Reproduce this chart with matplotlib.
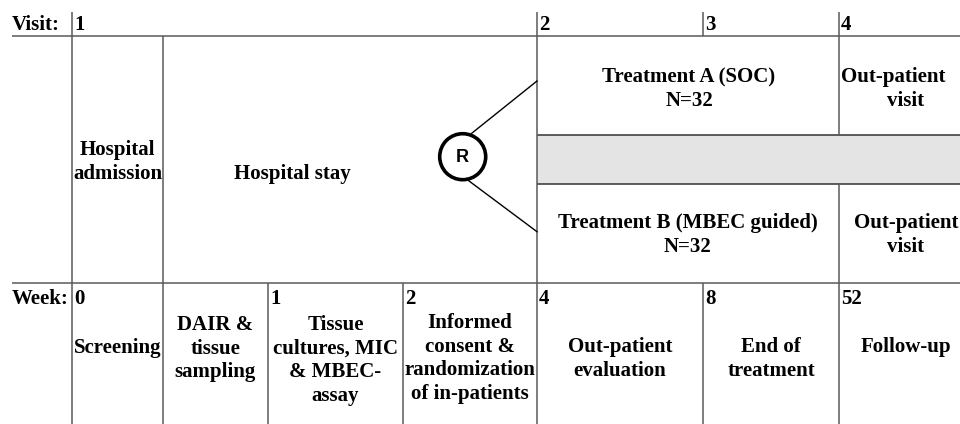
import matplotlib
matplotlib.use("Agg")
import matplotlib.pyplot as plt
from matplotlib.patches import Rectangle, Circle

# ---- content ----
visit_title = "Visit:"
visit_labels = ["1", "2", "3", "4"]
week_title = "Week:"
week_labels = ["0", "1", "2", "4", "8", "52"]

upper_labels = ["Hospital\nadmission", "Hospital stay"]
arm_a = "Treatment A (SOC)\nN=32"
arm_b = "Treatment B (MBEC guided)\nN=32"
visit_out = "Out-patient\nvisit"
rand_label = "R"

week_cells = ["Screening", "DAIR &\ntissue\nsampling",
              "Tissue\ncultures, MIC\n& MBEC-\nassay",
              "Informed\nconsent &\nrandomization\nof in-patients",
              "Out-patient\nevaluation", "End of\ntreatment", "Follow-up"]

# ---- layout (pixel coordinates) ----
W, H = 960, 424
X0, XA, XB, XC, XD, XE, XF, XR = 12, 72, 163, 268, 403, 537, 703, 839
Y_TOP, Y_BAND0, Y_BAND1, Y_WEEK = 36, 135, 184, 283
LINE_H = 23.5

fig = plt.figure(figsize=(W / 100, H / 100), dpi=100)
ax = fig.add_axes([0, 0, 1, 1])
ax.set_xlim(0, W)
ax.set_ylim(H, 0)
ax.axis("off")

GRID = "#5a5a5a"
LW = 1.1
serif = dict(family="Liberation Serif", weight="bold", size=15, color="black")


def hline(y, x0, x1, c=GRID, lw=LW):
    ax.plot([x0, x1], [y, y], color=c, lw=lw, solid_capstyle="butt")


def vline(x, y0, y1, c=GRID, lw=LW):
    ax.plot([x, x], [y0, y1], color=c, lw=lw, solid_capstyle="butt")


def block(label, xc, y_first, ha="center"):
    for i, line in enumerate(label.split("\n")):
        ax.text(xc, y_first + i * LINE_H, line, ha=ha, va="baseline", **serif)


# gray band
ax.add_patch(Rectangle((XE, Y_BAND0), W - XE, Y_BAND1 - Y_BAND0,
                       facecolor="#e4e4e4", edgecolor="none"))

# horizontal lines
hline(Y_TOP, X0, W)
hline(Y_WEEK, X0, W)
hline(Y_BAND0, XE, W, c="#333333")
hline(Y_BAND1, XE, W, c="#333333")

# vertical lines
vline(XA, 12, H)
vline(XB, Y_TOP, H)
vline(XE, 12, H)
vline(XF, 12, Y_TOP)
vline(XF, Y_WEEK, H)
vline(XR, 12, Y_BAND0)
vline(XR, Y_BAND1, H)
vline(XC, Y_WEEK, H)
vline(XD, Y_WEEK, H)

# visit row
ax.text(X0, 29.5, visit_title, ha="left", va="baseline", **serif)
for lab, x in zip(visit_labels, [XA, XE, XF, XR]):
    ax.text(x + 2, 29.5, lab, ha="left", va="baseline", **serif)

# week row
ax.text(X0, 303.5, week_title, ha="left", va="baseline", **serif)
for lab, x in zip(week_labels, [XA, XC, XD, XE, XF, XR]):
    ax.text(x + 2, 303.5, lab, ha="left", va="baseline", **serif)

# upper cells
block(upper_labels[0], (XA + XB) / 2, 155.5)
block(upper_labels[1], 292, 179)
block(arm_a, 689, 82)
block(arm_b, 688, 228)
# top out-patient (overflows its cell -> left part flush with line)
ax.text(XR + 2, 82, visit_out.split("\n")[0], ha="left", va="baseline", **serif)
ax.text(906, 82 + LINE_H, visit_out.split("\n")[1], ha="center", va="baseline", **serif)
block(visit_out, 906, 228)

# randomisation circle
ax.add_patch(Circle((462.7, 156.7), 23, facecolor="white", edgecolor="black", lw=2.6))
ax.text(462.7, 157.5, rand_label, ha="center", va="center",
        family="Liberation Sans", weight="bold", size=13)
ax.plot([471.7, XE], [133.3, 81], color="black", lw=1.0)
ax.plot([467.7, XE], [180, 231.7], color="black", lw=1.0)

# week cells
cell_x = [(XA + XB) / 2, (XB + XC) / 2, (XC + XD) / 2, (XD + XE) / 2,
          (XE + XF) / 2, (XF + XR) / 2, 906]
cell_y = [353, 330, 330, 328, 352, 352, 352]
for lab, x, y in zip(week_cells, cell_x, cell_y):
    block(lab, x, y)

fig.savefig("out.png", dpi=100)
